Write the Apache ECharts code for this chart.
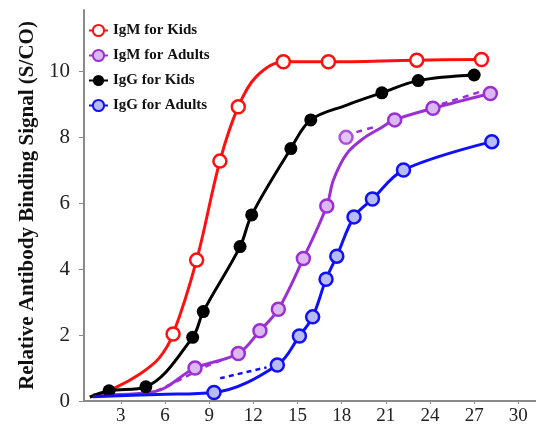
<!DOCTYPE html>
<html><head><meta charset="utf-8">
<script src="https://cdn.jsdelivr.net/npm/echarts@6/dist/echarts.min.js"></script>
<style>html,body{margin:0;padding:0;background:#fff}#c{width:536px;height:426px}</style>
</head><body><div id="c"></div>
<script>
// ---- data ----
const seriesNames = ['IgM for Kids', 'IgM for Adults', 'IgG for Kids', 'IgG for Adults'];
const xTicks = [3, 6, 9, 12, 15, 18, 21, 24, 27, 30];
const yTicks = [0, 2, 4, 6, 8, 10];

// measured points lying on the solid curves (with markers)
const igmKids = [[6.55,2.03],[8.15,4.27],[9.73,7.27],[10.98,8.92],[14.04,10.28],[17.1,10.28],[23.1,10.33],[27.5,10.35]];
const igmAdults = [[8.04,1.0],[10.98,1.44],[12.45,2.13],[13.7,2.78],[15.4,4.32],[16.99,5.91],[21.6,8.52],[24.2,8.87],[28.1,9.32]];
const iggKids = [[2.2,0.31],[4.7,0.43],[7.88,1.93],[8.6,2.71],[11.1,4.68],[11.89,5.64],[14.55,7.65],[15.9,8.52],[20.73,9.34],[23.2,9.71],[27.0,9.88]];
const iggAdults = [[9.33,0.26],[13.63,1.09],[15.13,1.97],[16.03,2.55],[16.94,3.69],[17.67,4.39],[18.84,5.58],[20.09,6.12],[22.2,7.0],[28.2,7.86]];

// measured points lying off the solid curve
const igmAdultsOff = [[18.3,7.99]];

// curve points without markers
const igmKidsCurve = [[0.9,0.12],[2.6,0.4],[4.3,0.82],[5.6,1.3],[12.2,9.83]];
const igmAdultsCurve = [[1.1,0.18],[5.25,0.28],[17.44,6.7],[18.35,7.5],[19.48,7.96],[20.6,8.26]];
const iggKidsCurve = [[0.9,0.12],[18.35,8.97]];
const iggAdultsCurve = [[1.1,0.13],[5.5,0.2]];

// dashed fit curves (visible pieces)
const igmAdultsFitLow = [[5.4,0.3],[7.0,0.64],[8.8,1.05],[10.2,1.3]];
const igmAdultsFitHigh = [[19.0,8.15],[20.2,8.3]];
const igmAdultsFitTop = [[24.8,9.0],[27.4,9.37]];
const iggAdultsFit = [[9.75,0.69],[12.9,1.02]];

const colors = ['#ff1010', '#9b2fd6', '#000000', '#1010ff'];
const fills = ['#ffffff', '#dcb8f2', '#000000', '#b8bcf5'];

function build(pts, curve) {
  const all = pts.map(p => ({value: p})).concat(curve.map(p => ({value: p, symbol: 'none'})));
  all.sort((a, b) => a.value[0] - b.value[0]);
  return all;
}
const groups = [[igmKids, igmKidsCurve], [igmAdults, igmAdultsCurve], [iggKids, iggKidsCurve], [iggAdults, iggAdultsCurve]];

const serif = '"Liberation Serif", "DejaVu Serif", serif';
function itemStyle(i) {
  return {color: fills[i], borderColor: colors[i], borderWidth: i === 2 ? 0 : 2.5};
}
const series = groups.map((g, i) => ({
  name: seriesNames[i],
  type: 'line',
  smooth: 0.35,
  data: build(g[0], g[1]),
  symbol: 'circle',
  symbolSize: 13,
  lineStyle: {color: colors[i], width: 3},
  itemStyle: itemStyle(i),
  z: 3 + i
}));
series.push({name: seriesNames[1], type: 'scatter', data: igmAdultsOff, symbol: 'circle', symbolSize: 13,
  itemStyle: itemStyle(1), z: 4});
[igmAdultsFitLow, igmAdultsFitHigh, igmAdultsFitTop].forEach(d => series.push({type: 'line', smooth: 0.4, data: d,
  symbol: 'none', silent: true, lineStyle: {color: colors[1], width: 2.5, type: [6, 5]}, z: 2}));
series.push({type: 'line', smooth: 0.4, data: iggAdultsFit, symbol: 'none', silent: true,
  lineStyle: {color: colors[3], width: 2.5, type: [5, 4]}, z: 2});

const chart = echarts.init(document.getElementById('c'), null, {renderer: 'canvas'});
chart.setOption({
  animation: false,
  backgroundColor: '#ffffff',
  grid: {left: 84, right: 0, top: 10, bottom: 25, containLabel: false},
  legend: {
    data: seriesNames,
    orient: 'vertical', left: 83, top: 18,
    itemWidth: 19, itemHeight: 14, itemGap: 10,
    textStyle: {fontFamily: serif, fontWeight: 'bold', fontSize: 15, color: '#111'}
  },
  xAxis: {
    type: 'value', min: 0.5, max: 31.2,
    axisLine: {show: true, onZero: false, lineStyle: {color: '#8a8a8a', width: 2}},
    axisTick: {show: true, length: 3, customValues: xTicks, lineStyle: {color: '#8a8a8a'}},
    axisLabel: {customValues: xTicks, margin: 6, fontFamily: serif, fontSize: 19, color: '#222'},
    splitLine: {show: false}
  },
  yAxis: {
    type: 'value', min: 0, max: 11.85,
    name: 'Relative Antibody Binding Signal (S/CO)',
    nameLocation: 'middle', nameGap: 46,
    nameTextStyle: {fontFamily: serif, fontWeight: 'bold', fontSize: 21, color: '#111'},
    axisLine: {show: true, lineStyle: {color: '#8a8a8a', width: 2}},
    axisTick: {show: true, length: 5, customValues: yTicks, lineStyle: {color: '#8a8a8a'}},
    axisLabel: {customValues: yTicks, margin: 14, fontFamily: serif, fontSize: 21, color: '#222'},
    splitLine: {show: false}
  },
  series: series
});
</script></body></html>
